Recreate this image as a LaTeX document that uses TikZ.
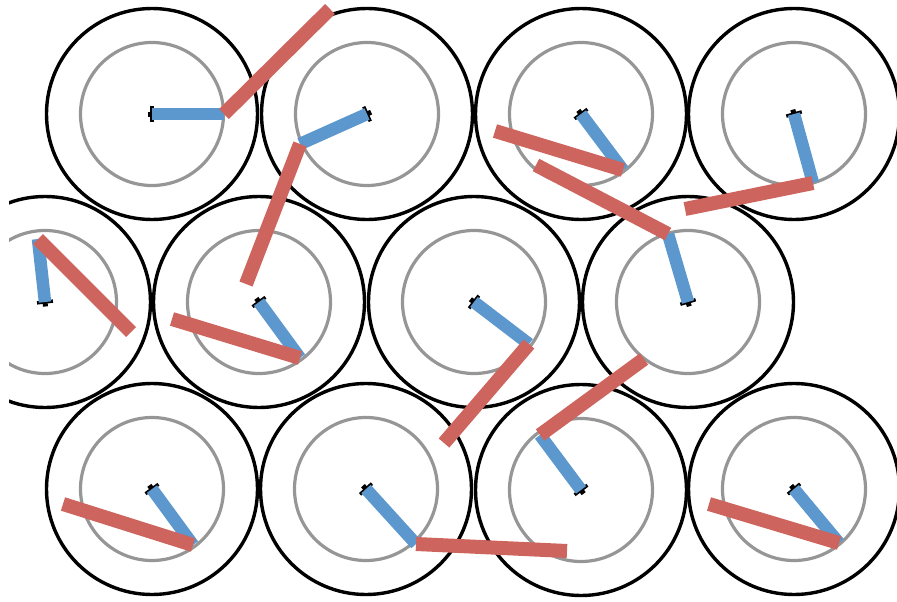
\documentclass[tikz,border=0pt]{standalone}
\usetikzlibrary{calc}

\definecolor{armblue}{RGB}{92,152,205}
\definecolor{rodred}{RGB}{206,100,94}
\definecolor{ringgray}{RGB}{150,150,150}

\tikzset{
  outerring/.style={black, line width=3.4pt},
  innerring/.style={ringgray, line width=3.2pt},
  arm/.style={armblue, line width=12.5pt},
  rod/.style={rodred, line width=14pt},
  pin/.style={black, line width=3.4pt}
}

\begin{document}
\begin{tikzpicture}[x=1pt, y=-1pt]

\useasboundingbox (0,0) rectangle (897,602);
\clip (9,0) rectangle (897,602);

% centres of the wheels
\coordinate (c1) at (152,114);
\coordinate (c2) at (367,114);
\coordinate (c3) at (581,114);
\coordinate (c4) at (794,114);
\coordinate (c5) at (45,302);
\coordinate (c6) at (259,302);
\coordinate (c7) at (474,302);
\coordinate (c8) at (688,302);
\coordinate (c9) at (152,489);
\coordinate (c10) at (366,489);
\coordinate (c11) at (581,490);
\coordinate (c12) at (794,489);

% end of the blue arms
\coordinate (b1) at (224,114);
\coordinate (b2) at (300,144);
\coordinate (b3) at (623,170);
\coordinate (b4) at (813,183);
\coordinate (b5) at (38,239);
\coordinate (b6) at (300,358);
\coordinate (b7) at (529,344);
\coordinate (b8) at (668,234);
\coordinate (b9) at (193,545);
\coordinate (b10) at (416,544);
\coordinate (b11) at (540,435);
\coordinate (b12) at (839,543);

% free end of the red rods
\coordinate (r1) at (330,9);
\coordinate (r2) at (246,284);
\coordinate (r3) at (495,131);
\coordinate (r4) at (685,209);
\coordinate (r5) at (131,332);
\coordinate (r6) at (172,319);
\coordinate (r7) at (444,443);
\coordinate (r8) at (536,165);
\coordinate (r9) at (63,504);
\coordinate (r10) at (567,551);
\coordinate (r11) at (644,359);
\coordinate (r12) at (709,504);

\foreach \i in {1,...,12}{
  \draw[outerring] (c\i) circle[radius=105.5pt];
  \draw[innerring] (c\i) circle[radius=71.5pt];
}

\foreach \i in {1,...,12}{
  \draw[black, line width=5pt] ($(c\i)!-4.5pt!(b\i)$) -- (c\i);
  \draw[pin] ($(c\i)!8pt!90:(b\i)$) -- ($(c\i)!8pt!-90:(b\i)$);
  \draw[arm] (c\i) -- (b\i);
}

\foreach \i in {1,...,12}{
  \draw[rod] (b\i) -- (r\i);
}

\end{tikzpicture}
\end{document}
